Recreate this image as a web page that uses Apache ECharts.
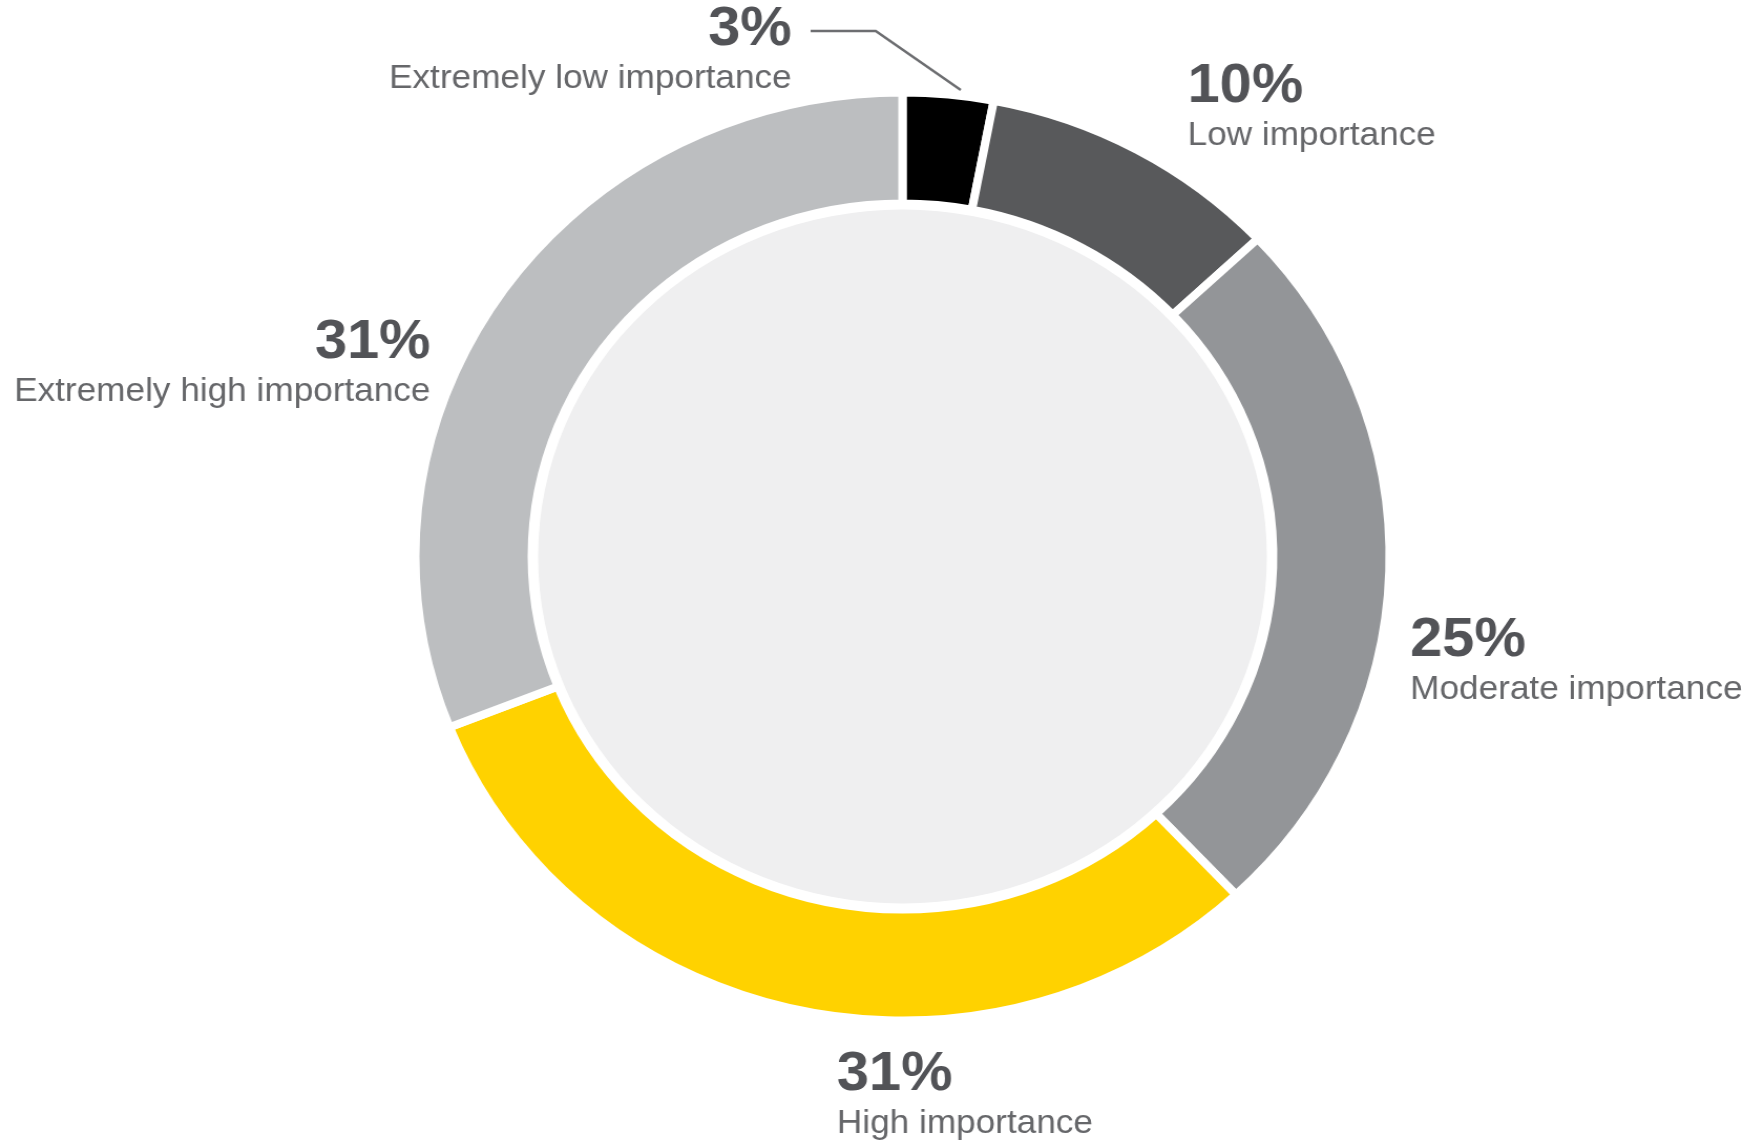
<!DOCTYPE html>
<html>
<head>
<meta charset="utf-8">
<script src="https://cdn.jsdelivr.net/npm/echarts@6/dist/echarts.min.js"></script>
<style>
  html, body { margin: 0; padding: 0; background: #ffffff; overflow: hidden; }
  /* the donut is drawn slightly wider than tall */
  #chart { width: 1678px; height: 1143px; transform: scaleX(1.05); transform-origin: 0 0; }
</style>
</head>
<body>
<div id="chart"></div>
<script>
// Share of respondents by rated importance (%)
const categories = [
  'Extremely low importance',
  'Low importance',
  'Moderate importance',
  'High importance',
  'Extremely high importance'
];
const shares = [3, 10, 25, 31, 31];
const sliceColors = ['#000000', '#58595b', '#939598', '#ffd200', '#bcbec0'];

// Label anchor for each slice: [x, y of block top, text alignment]
const labelAnchors = [
  [754, 5, 'right'],
  [1131, 62, 'left'],
  [1343, 616, 'left'],
  [797, 1050, 'left'],
  [410, 318, 'right']
];
// Leader line only for the thin top slice
const leaderPoints = [[772, 31], [834, 31], [915, 90]];

const chart = echarts.init(document.getElementById('chart'), null, { renderer: 'canvas' });

const donutData = categories.map((name, i) => ({
  name: name,
  value: shares[i],
  itemStyle: { color: sliceColors[i] },
  label: { align: labelAnchors[i][2] },
  labelLine: { show: i === 0 }
}));

chart.setOption({
  backgroundColor: '#ffffff',
  animation: false,
  series: [
    {
      // light inner disc
      type: 'pie',
      silent: true,
      center: [859.5, 556.5],
      radius: [0, 347],
      label: { show: false },
      labelLine: { show: false },
      itemStyle: { color: '#efeff0' },
      data: [{ value: 1, name: '' }],
      z: 1
    },
    {
      type: 'pie',
      center: [859.5, 556.5],
      radius: [353, 464],
      startAngle: 90,
      clockwise: true,
      avoidLabelOverlap: false,
      itemStyle: { borderColor: '#ffffff', borderWidth: 8 },
      label: {
        show: true,
        position: 'outside',
        formatter: '{p|{c}%}\n{n|{b}}',
        rich: {
          p: {
            fontFamily: '"Liberation Sans", Arial, sans-serif',
            fontWeight: 'bold',
            fontSize: 55,
            lineHeight: 50,
            color: '#525357'
          },
          n: {
            fontFamily: '"Liberation Sans", Arial, sans-serif',
            fontSize: 33.5,
            lineHeight: 48,
            color: '#66676a'
          }
        }
      },
      labelLine: {
        show: false,
        lineStyle: { color: '#6d6e71', width: 2.5 }
      },
      labelLayout: function (params) {
        const a = labelAnchors[params.dataIndex];
        const out = { x: a[0], y: a[1], align: a[2], verticalAlign: 'top' };
        if (params.dataIndex === 0) out.labelLinePoints = leaderPoints;
        return out;
      },
      data: donutData,
      z: 2
    }
  ]
});
</script>
</body>
</html>
